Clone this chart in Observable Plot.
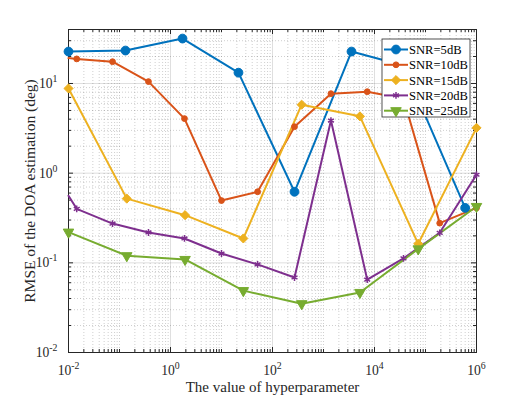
<!DOCTYPE html>
<html><head><meta charset="utf-8">
<script src="https://cdn.jsdelivr.net/npm/d3@7"></script>
<script src="https://cdn.jsdelivr.net/npm/@observablehq/plot@0.6"></script>
<style>
body{margin:0;background:#fff;}
#chart{position:relative;width:526px;height:397px;}
</style></head><body><div id="chart"></div>
<script>
// ---- data ----
const seriesNames = ["SNR=5dB", "SNR=10dB", "SNR=15dB", "SNR=20dB", "SNR=25dB"];
const colors = ["#0072BD", "#D95319", "#EDB120", "#7E2F8E", "#77AC30"];

const x5  = [0.01, 0.131, 1.72, 21.5, 270, 3540, 37000, 600000];
const y5  = [22.7, 23.3, 31.7, 13.2, 0.62, 22.7, 15.9, 0.41];
const x10 = [0.01, 0.0145, 0.073, 0.37, 1.88, 10, 51, 270, 1400, 7200, 37000, 190000, 1000000];
const y10 = [19.2, 18.8, 17.5, 10.5, 4.06, 0.495, 0.62, 3.3, 7.7, 8.1, 6.8, 0.277, 0.41];
const x15 = [0.01, 0.139, 1.93, 26.8, 373, 5180, 72000, 1000000];
const y15 = [8.8, 0.52, 0.34, 0.187, 5.8, 4.3, 0.163, 3.2];
const x20 = [0.01, 0.0145, 0.073, 0.37, 1.88, 10, 51, 270, 1400, 7200, 37000, 190000, 1000000];
const y20 = [0.56, 0.40, 0.274, 0.218, 0.187, 0.127, 0.096, 0.0686, 3.86, 0.065, 0.112, 0.216, 0.96];
const x25 = [0.01, 0.139, 1.93, 26.8, 373, 5180, 72000, 1000000];
const y25 = [0.22, 0.12, 0.109, 0.049, 0.035, 0.0467, 0.143, 0.425];

const xTicks = [1e-2, 1e0, 1e2, 1e4, 1e6];
const yTicks = [1e-2, 1e-1, 1e0, 1e1];
const xLabel = "The value of hyperparameter";
const yLabel = "RMSE of the DOA estimation (deg)";

// ---- build table ----
const xs = [x5, x10, x15, x20, x25];
const ys = [y5, y10, y15, y20, y25];
const markerFrom = [0, 1, 0, 1, 0];
const data = [];
seriesNames.forEach((s, k) => xs[k].forEach((x, i) => data.push({series: s, k, i, x, y: ys[k][i]})));

// minor ticks / grid
const xMinor = [];
for (let e = -2; e < 6; e++) for (let m = 1; m <= 9; m++) { const v = +(m * Math.pow(10, e)).toPrecision(6); if (!xTicks.some(t => Math.abs(t - v) / v < 1e-9)) xMinor.push(v); }
const yMinor = [];
for (let e = -2; e <= 1; e++) for (let m = 1; m <= 9; m++) { const v = +(m * Math.pow(10, e)).toPrecision(6); if (v < 40 && !yTicks.some(t => Math.abs(t - v) / v < 1e-9)) yMinor.push(v); }

const W = 526, H = 397, mT = 29, mR = 50, mB = 45, mL = 68;
const innerH = H - mT - mB, innerW = W - mL - mR;
const axisColor = "#262626";
const FONT = '"Liberation Serif", "Times New Roman", serif';

const markStyles = [
  {symbol: "circle", r: 4.4, strokeWidth: 1},
  {symbol: "circle", r: 2.9, strokeWidth: 1},
  {symbol: "diamond2", r: 4.1, strokeWidth: 1},
  {symbol: "asterisk", r: 3.2, strokeWidth: 1.5},
  {symbol: "triangle", r: 3.9, strokeWidth: 1, rotate: 180}
];

const fmt = d => "10^" + Math.round(Math.log10(d));

const marks = [
  Plot.ruleX(xMinor, {stroke: axisColor, strokeOpacity: 0.22, strokeDasharray: "1,2"}),
  Plot.ruleY(yMinor, {stroke: axisColor, strokeOpacity: 0.22, strokeDasharray: "1,2"}),
  Plot.ruleX(xTicks, {stroke: axisColor, strokeOpacity: 0.15}),
  Plot.ruleY(yTicks, {stroke: axisColor, strokeOpacity: 0.15}),
  // inward ticks on four sides
  Plot.ruleX(xTicks, {stroke: axisColor, insetTop: innerH - 5}),
  Plot.ruleX(xTicks, {stroke: axisColor, insetBottom: innerH - 5}),
  Plot.ruleX(xMinor, {stroke: axisColor, insetTop: innerH - 3}),
  Plot.ruleX(xMinor, {stroke: axisColor, insetBottom: innerH - 3}),
  Plot.ruleY(yTicks, {stroke: axisColor, insetRight: innerW - 5}),
  Plot.ruleY(yTicks, {stroke: axisColor, insetLeft: innerW - 5}),
  Plot.ruleY(yMinor, {stroke: axisColor, insetRight: innerW - 3}),
  Plot.ruleY(yMinor, {stroke: axisColor, insetLeft: innerW - 3}),
  Plot.frame({stroke: axisColor, strokeWidth: 1})
];
seriesNames.forEach((s, k) => {
  marks.push(Plot.line(data.filter(d => d.k === k), {x: "x", y: "y", stroke: colors[k], strokeWidth: 2}));
});
seriesNames.forEach((s, k) => {
  const st = markStyles[k];
  const opts = {x: "x", y: "y", symbol: st.symbol, r: st.r, stroke: colors[k], strokeWidth: st.strokeWidth};
  if (st.symbol !== "asterisk") opts.fill = colors[k];
  if (st.rotate) opts.rotate = st.rotate;
  marks.push(Plot.dot(data.filter(d => d.k === k && d.i >= markerFrom[k]), opts));
});
marks.push(
  Plot.axisX(xTicks, {tickSize: 0, tickPadding: 13, tickFormat: fmt, fontSize: 13.6, fontFamily: FONT, fontVariant: "normal"}),
  Plot.axisY(yTicks, {tickSize: 0, tickPadding: 11, tickFormat: fmt, fontSize: 13.6, fontFamily: FONT, fontVariant: "normal"}),
  Plot.text([xLabel], {frameAnchor: "bottom", dy: 35, lineAnchor: "middle", textAnchor: "middle", fontSize: 15, fontFamily: FONT, fill: axisColor}),
  Plot.text([yLabel], {frameAnchor: "left", dx: -38, rotate: -90, lineAnchor: "middle", textAnchor: "middle", fontSize: 15.5, fontFamily: FONT, fill: axisColor})
);

const plot = Plot.plot({
  width: W, height: H,
  marginTop: mT, marginRight: mR, marginBottom: mB, marginLeft: mL,
  style: {fontFamily: FONT, fontSize: "13.6px", color: axisColor, background: "#fff", overflow: "visible"},
  x: {type: "log", domain: [1e-2, 1e6], label: null},
  y: {type: "log", domain: [1e-2, 40], label: null},
  marks
});
document.getElementById("chart").appendChild(plot);

// superscript exponents in tick labels
const NS = "http://www.w3.org/2000/svg";
plot.querySelectorAll('[aria-label="x-axis tick label"] text, [aria-label="y-axis tick label"] text').forEach(t => {
  const s = t.textContent;
  if (!s.includes("^")) return;
  const [b, e] = s.split("^");
  t.textContent = "";
  const t1 = document.createElementNS(NS, "tspan"); t1.textContent = b; t.appendChild(t1);
  const t2 = document.createElementNS(NS, "tspan"); t2.textContent = e;
  t2.setAttribute("dy", "-0.6em"); t2.style.fontSize = "72%"; t.appendChild(t2);
});

// legend
const svg = d3.select(plot);
const lg = svg.append("g").attr("transform", "translate(382,39)").attr("text-anchor", "start");
lg.append("rect").attr("width", 88).attr("height", 78).attr("fill", "#fff").attr("stroke", axisColor).attr("stroke-width", 0.8);
const symFns = {circle: d3.symbolCircle, diamond2: d3.symbolDiamond2, asterisk: d3.symbolAsterisk, triangle: d3.symbolTriangle};
seriesNames.forEach((s, k) => {
  const st = markStyles[k];
  const g = lg.append("g").attr("transform", `translate(0,${10.5 + k * 15.3})`);
  g.append("line").attr("x1", 2).attr("x2", 26).attr("stroke", colors[k]).attr("stroke-width", 2);
  g.append("path")
    .attr("transform", `translate(14,0) rotate(${st.rotate || 0})`)
    .attr("d", d3.symbol(symFns[st.symbol], Math.PI * st.r * st.r)())
    .attr("fill", st.symbol === "asterisk" ? "none" : colors[k])
    .attr("stroke", colors[k]).attr("stroke-width", st.strokeWidth);
  g.append("text").attr("x", 27).attr("dy", "0.35em").attr("text-anchor", "start")
    .attr("font-family", FONT).attr("font-size", 12.6).attr("fill", "#000").text(s);
});
</script></body></html>
